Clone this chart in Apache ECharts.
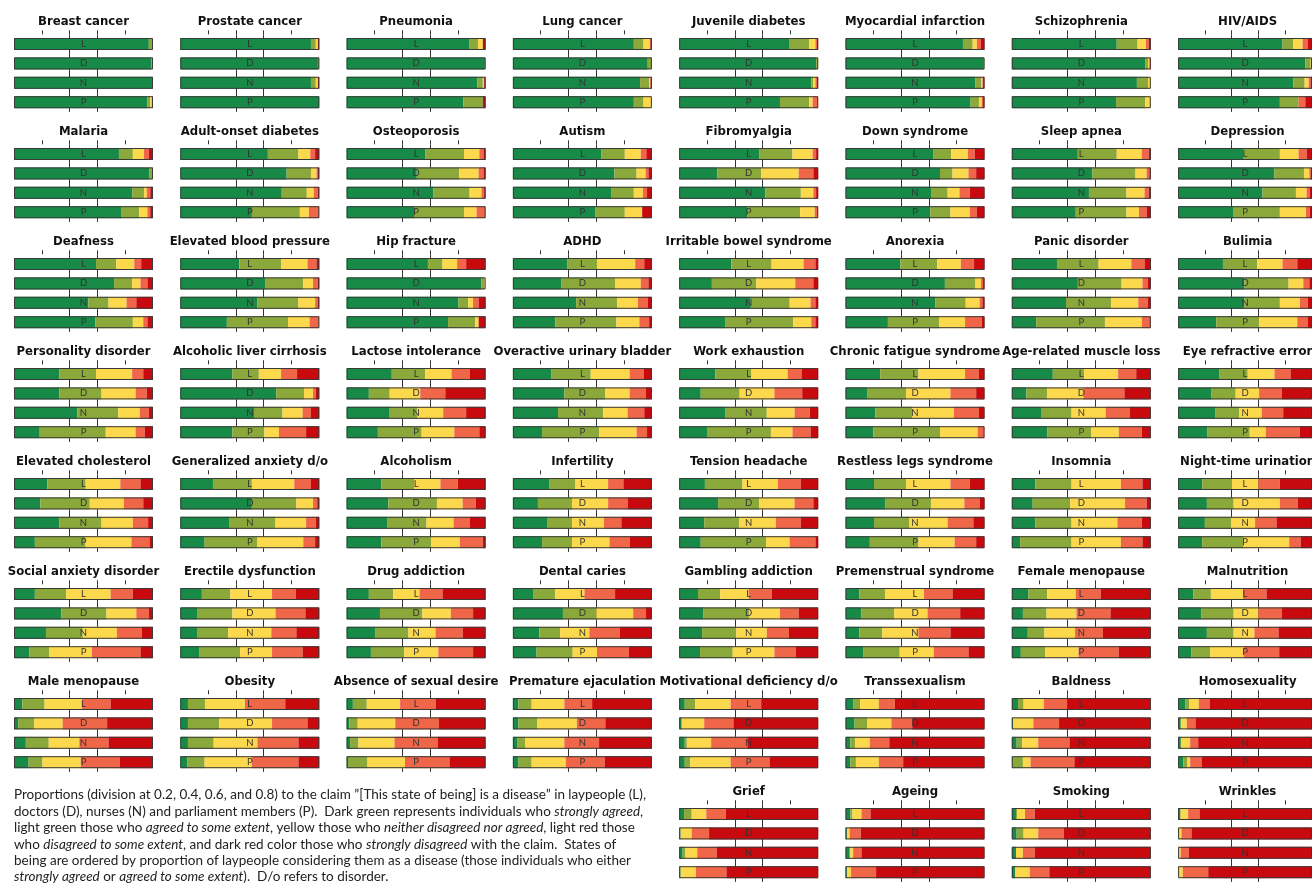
<!DOCTYPE html>
<html>
<head>
<meta charset="utf-8">
<script src="https://cdn.jsdelivr.net/npm/echarts@6/dist/echarts.min.js"></script>
<style>
  html, body { margin: 0; background: #fff; }
  #chart { width: 1312px; height: 883px; }
</style>
</head>
<body>
<div id="chart"></div>
<script>
// states of being, ordered as in the figure (8 per row, last row starts at column 5)
const conditions = [
  'Breast cancer', 'Prostate cancer', 'Pneumonia', 'Lung cancer', 'Juvenile diabetes', 'Myocardial infarction', 'Schizophrenia', 'HIV/AIDS',
  'Malaria', 'Adult-onset diabetes', 'Osteoporosis', 'Autism', 'Fibromyalgia', 'Down syndrome', 'Sleep apnea', 'Depression',
  'Deafness', 'Elevated blood pressure', 'Hip fracture', 'ADHD', 'Irritable bowel syndrome', 'Anorexia', 'Panic disorder', 'Bulimia',
  'Personality disorder', 'Alcoholic liver cirrhosis', 'Lactose intolerance', 'Overactive urinary bladder', 'Work exhaustion', 'Chronic fatigue syndrome', 'Age-related muscle loss', 'Eye refractive error',
  'Elevated cholesterol', 'Generalized anxiety d/o', 'Alcoholism', 'Infertility', 'Tension headache', 'Restless legs syndrome', 'Insomnia', 'Night-time urination',
  'Social anxiety disorder', 'Erectile dysfunction', 'Drug addiction', 'Dental caries', 'Gambling addiction', 'Premenstrual syndrome', 'Female menopause', 'Malnutrition',
  'Male menopause', 'Obesity', 'Absence of sexual desire', 'Premature ejaculation', 'Motivational deficiency d/o', 'Transsexualism', 'Baldness', 'Homosexuality',
  'Grief', 'Ageing', 'Smoking', 'Wrinkles'
];
// respondent groups: laypeople, doctors, nurses, parliament members
const groups = ['L', 'D', 'N', 'P'];
const answers = ['strongly agreed', 'agreed to some extent', 'neither', 'disagreed to some extent', 'strongly disagreed'];
const colors = ['#178a47', '#8ba83a', '#fcd84c', '#ef6648', '#c80a0f'];

// percentages per condition, each entry is [L, D, N, P]
const strongAgree = [
  [97, 99, 100, 96], [94, 99, 94, 100], [88.5, 99.5, 94, 84], [87, 97, 91.5, 87], [79.5, 98.5, 95, 72.5], [84.5, 99.5, 93.5, 90], [75.5, 96, 90, 75], [78, 95, 86, 76],
  [75.5, 97.5, 85, 77], [63, 76.5, 73, 51.5], [56.5, 50.5, 62.5, 48.5], [63.5, 73, 71, 59.5], [57.5, 27.5, 62, 49], [63, 68, 61.5, 61], [47.5, 58, 55.5, 46], [49, 72, 63, 41.5],
  [59, 72, 53.5, 58.5], [42.5, 61, 55.5, 33.5], [58.5, 97, 80.5, 73], [39, 35, 45.5, 30.5], [37.5, 23.5, 51.5, 33], [39.5, 71.5, 64.5, 30.5], [32.5, 47.5, 39, 17.5], [33.5, 49.5, 49.5, 28.5],
  [32.5, 32.5, 45.5, 18.5], [37.5, 69, 53, 37.5], [32.5, 16, 31, 22.5], [27.5, 37, 32.5, 21], [26, 15.5, 33, 20], [25, 15.5, 21.5, 20], [29.5, 10.5, 21.5, 25.5], [31, 25, 28, 22],
  [24, 19, 32.5, 15], [23.5, 51.5, 35.5, 17.5], [25, 30, 29.5, 25], [26, 18, 25, 21], [18.5, 28, 18, 15.5], [20.5, 28.5, 20.5, 17.5], [17, 15, 17, 6], [18, 21.5, 20, 18],
  [15, 34, 23, 11], [15.5, 12.5, 12, 13.5], [16, 24, 20.5, 17.5], [14.5, 36, 19, 17], [13.5, 17.5, 16.5, 15], [10, 11.5, 10, 13], [12, 8, 11.5, 6.5], [11.5, 17.5, 21.5, 10],
  [6, 3, 8.5, 10.5], [5.5, 5.5, 5.5, 5], [4.5, 2, 2.5, 1], [4, 4, 3, 4], [4, 1.5, 4, 4], [5.5, 6.5, 3.5, 3.5], [4.5, 1, 3.5, 0.5], [5.5, 2, 2, 4],
  [3.5, 1, 2.5, 1], [3.5, 1, 2.5, 1], [3, 3.5, 3, 2.5], [1.5, 0, 0, 0]
];
const agreeSome = [
  [2.5, 1, 0, 2], [3.5, 1, 3.5, 0], [6, 0.5, 4, 14], [7, 3, 6.5, 7], [14, 1.5, 1.5, 21], [7, 0.5, 4, 6], [15, 2, 8, 21], [8, 4, 8.5, 14],
  [10, 2.5, 8.5, 13], [22, 17.5, 18, 34.5], [28, 30.5, 26, 36], [17, 16, 16, 21], [24, 31.5, 25.5, 38], [13, 9, 12, 14.5], [28, 31, 27, 36.5], [27, 22, 25, 34.5],
  [14.5, 13, 14.5, 27], [30, 27.5, 29.5, 44], [10.5, 2, 7, 19.5], [21.5, 38.5, 29.5, 44], [29, 32, 28, 49], [26.5, 22, 22, 37], [30, 31.5, 32.5, 49.5], [25.5, 33, 26.5, 32],
  [26.5, 30.5, 29.5, 47.5], [19, 20, 20.5, 23], [24, 15, 20, 31.5], [28.5, 29.5, 32.5, 41], [26, 28, 30, 46], [27.5, 28, 26.5, 48], [22.5, 15, 21.5, 31.5], [21, 18, 17.5, 31.5],
  [27.5, 35.5, 30.5, 36.5], [28, 32, 33, 38], [23.5, 35, 28, 36], [19, 24.5, 17.5, 21.5], [27, 29.5, 25, 47], [23, 33, 25.5, 35], [26, 27, 26, 37], [22, 20, 19.5, 31],
  [22.5, 32.5, 26.5, 14.5], [20.5, 25, 22.5, 29.5], [17.5, 30.5, 24, 24], [16, 24, 15, 26], [16, 33, 24.5, 23.5], [18.5, 23.5, 16.5, 26], [13.5, 17, 12, 17.5], [13, 24, 20, 14],
  [16, 11.5, 16.5, 10], [12.5, 22.5, 18.5, 12.5], [10, 6, 6, 14], [9.5, 13.5, 6, 9.5], [7.5, 0.5, 1.5, 4], [5, 9, 3.5, 4], [4, 0, 4, 7.5], [3, 0, 0.5, 3],
  [5.5, 0, 2, 0], [1.5, 0, 1, 0], [1, 5, 0, 0], [0.5, 0.5, 0.5, 0]
];
const neutral = [
  [0.5, 0, 0, 1], [1.5, 0, 1.5, 0], [3.5, 0, 1, 0], [4.5, 0, 1, 6], [4.5, 0, 1.5, 2.5], [3, 0, 1, 2], [6, 1, 2, 4], [7, 1, 3, 0],
  [8, 0, 2, 6], [8.5, 4, 5, 6.5], [11, 14, 8.5, 9], [11.5, 6.5, 6.5, 12.5], [14.5, 27, 9, 10.5], [12, 11.5, 8.5, 14], [18, 8, 13, 9], [14, 4, 8, 19.5],
  [13, 6, 13, 7.5], [19, 7, 12, 15.5], [10.5, 1, 3.5, 2.5], [27.5, 18.5, 15, 16.5], [23, 28, 15, 13], [17, 4, 10, 18.5], [23.5, 15, 19.5, 26.5], [19, 11, 15, 28.5],
  [26, 24.5, 15.5, 21.5], [16, 6.5, 14.5, 10.5], [19, 22, 18.5, 23.5], [28, 17.5, 17.5, 27], [26, 25, 20, 15.5], [33.5, 32, 30, 27], [24.5, 26, 24.5, 20], [20, 17.5, 17, 12],
  [25, 24.5, 22.5, 33], [30.5, 12, 22, 33], [19, 18.5, 19.5, 20.5], [23.5, 26, 23, 27], [25.5, 25.5, 26.5, 17], [32, 24, 27.5, 26], [35.5, 39.5, 33, 35.5], [20, 34.5, 18, 34],
  [32, 21.5, 24.5, 30.5], [30, 31, 31, 23], [19, 20.5, 19.5, 24.5], [21, 26.5, 21, 17.5], [20.5, 22, 22, 30], [28, 24, 26, 24.5], [20.5, 21.5, 22, 24], [24, 18.5, 15.5, 25],
  [27, 20.5, 22, 27.5], [28.5, 38, 31.5, 34], [24, 27, 26, 27], [23.5, 28.5, 28, 24.5], [25.5, 16, 17.5, 29], [13.5, 17.5, 10.5, 16.5], [14.5, 14.5, 11.5, 5.5], [7, 4.5, 6.5, 2],
  [10.5, 8, 8.5, 11], [6.5, 2, 2, 3], [5.5, 10.5, 5, 10.5], [5.5, 2, 1.5, 3.5]
];
const disagreeSome = [
  [0, 0, 0, 0.5], [0, 0, 0, 0], [0, 0, 0, 0], [0.5, 0, 0, 0], [1, 0, 1, 4], [3, 0, 0.5, 1], [2, 0.5, 0, 0], [4, 0, 1.5, 5],
  [3.5, 0, 2.5, 2], [3.5, 1, 3, 7.5], [3, 3.5, 2, 6.5], [4, 2, 3, 0], [2.5, 10.5, 2, 2.5], [5, 5.5, 7.5, 5], [5, 2, 3, 5.5], [6, 1, 2.5, 3],
  [5, 5, 7, 3], [6.5, 3.5, 2, 7], [6.5, 0, 4, 0], [6.5, 5.5, 7, 7], [8.5, 13, 3.5, 3], [9.5, 1.5, 2, 12], [9.5, 4, 7, 6.5], [11, 4.5, 6, 8],
  [8, 8, 6.5, 6.5], [11.5, 2, 6, 19.5], [13, 18, 16.5, 18], [10, 11.5, 12, 7.5], [10, 20, 11, 13], [10, 18.5, 18, 5], [13, 29.5, 17.5, 16.5], [12, 17, 16, 25.5],
  [14.5, 14, 11, 13], [12, 3, 7, 8.5], [12.5, 9.5, 11.5, 16.5], [11, 14, 12.5, 14.5], [16.5, 13.5, 18, 18.5], [14, 11, 18.5, 15.5], [15.5, 15.5, 17.5, 15.5], [16, 13.5, 16, 8.5],
  [16, 9, 18, 35], [17, 21.5, 18, 22], [16.5, 16, 19.5, 25], [22, 9, 22, 23], [16.5, 13.5, 16, 15.5], [20.5, 23.5, 23, 25], [18, 24.5, 20, 29], [17.5, 17.5, 18, 26.5],
  [20.5, 32, 21, 28], [29, 25.5, 29.5, 33.5], [25.5, 31.5, 31, 32], [20, 20.5, 25, 28], [22, 21, 26, 28], [11.5, 15, 14, 17.5], [17, 18.5, 22.5, 31.5], [8, 6.5, 6, 8.5],
  [14, 12.5, 14, 22], [6.5, 8, 6, 18], [7, 18.5, 8.5, 14], [8.5, 7.5, 6, 19]
];
const strongDisagree = [
  [0, 0, 0, 0.5], [1, 0, 1, 0], [2, 0, 1, 2], [1, 0, 1, 0], [1, 0, 1, 0], [2.5, 0, 1, 1], [1.5, 0.5, 0, 0], [3, 0, 1, 5],
  [3, 0, 2, 2], [3, 1, 1, 0], [1.5, 1.5, 1, 0], [4, 2.5, 3.5, 7], [1.5, 3.5, 1.5, 0], [7, 6, 10.5, 5.5], [1.5, 1, 1.5, 3], [4, 1, 1.5, 1.5],
  [8.5, 4, 12, 4], [2, 1, 1, 0], [14, 0, 5, 5], [5.5, 2.5, 3, 2], [2, 3.5, 2, 2], [7.5, 1, 1.5, 2], [4.5, 2, 2, 0], [11, 2, 3, 3],
  [7, 4.5, 3, 6], [16, 2.5, 6, 9.5], [11.5, 29, 14, 4.5], [6, 4.5, 5.5, 3.5], [12, 11.5, 6, 5.5], [4, 6, 4, 0], [10.5, 19, 15, 6.5], [16, 22.5, 21.5, 9],
  [9, 7, 3.5, 2.5], [6, 1.5, 2.5, 3], [20, 7, 11.5, 2], [20.5, 17.5, 22, 16], [12.5, 3.5, 12.5, 2], [10.5, 3.5, 8, 6], [6, 3, 6.5, 6], [24, 10.5, 26.5, 8.5],
  [14.5, 3, 8, 9], [17, 10, 16.5, 12], [31, 9, 16.5, 9], [26.5, 4.5, 23, 16.5], [33.5, 14, 21, 16], [23, 17.5, 24.5, 11.5], [36, 29, 34.5, 23], [34, 22.5, 25, 24.5],
  [30.5, 33, 32, 24], [24.5, 8.5, 15, 15], [36, 33.5, 34.5, 26], [43, 33.5, 38, 34], [41, 61, 51, 35], [64.5, 52, 68.5, 58.5], [60, 66, 58.5, 55], [76.5, 87, 85, 82.5],
  [66.5, 78.5, 73, 66], [82, 89, 88.5, 78], [83.5, 62.5, 83.5, 73], [84, 90, 92, 77.5]
];
const levelData = [strongAgree, agreeSome, neutral, disagreeSome, strongDisagree];
const tickValues = [20, 40, 60, 80];

const captionLines = [
  'Proportions (division at 0.2, 0.4, 0.6, and 0.8) to the claim ”[This state of being] is a disease” in laypeople (L),',
  'doctors (D), nurses (N) and parliament members (P).  Dark green represents individuals who {i|strongly agreed},',
  'light green those who {i|agreed to some extent}, yellow those who {i|neither disagreed nor agreed}, light red those',
  'who {i|disagreed to some extent}, and dark red color those who {i|strongly disagreed} with the claim.  States of',
  'being are ordered by proportion of laypeople considering them as a disease (those individuals who either',
  '{i|strongly agreed} or {i|agreed to some extent}).  D/o refers to disorder.'
];

const chart = echarts.init(document.getElementById('chart'));
const titleFont = "'DejaVu Sans Condensed', 'DejaVu Sans', sans-serif";
const textFont = "Lato, 'Open Sans', sans-serif";

const grids = [], xAxes = [], yAxes = [], titles = [], series = [];
conditions.forEach((name, i) => {
  const col = i < 56 ? i % 8 : 4 + (i - 56);
  const row = i < 56 ? Math.floor(i / 8) : 7;
  const left = 14 + col * 166.3;
  const top = 34.3 + row * 110;
  grids.push({ left: left, top: top, width: 139, height: 77.6 });
  xAxes.push({
    gridIndex: i, type: 'value', min: 0, max: 100, interval: 20, position: 'top',
    axisLine: { show: false }, axisLabel: { show: false },
    axisTick: { show: true, length: 4, customValues: tickValues, lineStyle: { color: '#333', width: 1 } },
    splitLine: { show: true, showMinLine: false, showMaxLine: false, lineStyle: { color: '#333', width: 1 } }
  });
  yAxes.push({ gridIndex: i, type: 'category', data: groups, inverse: true, show: false });
  titles.push({
    text: name, left: left + 69.5, top: top - 21, textAlign: 'center', padding: 0,
    textStyle: { fontFamily: titleFont, fontWeight: 'bold', fontSize: 13, lineHeight: 16, color: '#111' }
  });
  levelData.forEach((arr, k) => {
    series.push({
      type: 'bar', name: answers[k], xAxisIndex: i, yAxisIndex: i, stack: 'panel' + i,
      barWidth: 12, barGap: '-100%', silent: true, animation: false,
      itemStyle: { color: colors[k] }, data: arr[i]
    });
  });
  // outline and group letter on top of the stacked bar
  series.push({
    type: 'bar', xAxisIndex: i, yAxisIndex: i, barWidth: 12, barGap: '-100%', silent: true, animation: false, z: 3,
    itemStyle: { color: 'rgba(0,0,0,0)', borderColor: '#3a3a3a', borderWidth: 1 },
    label: { show: true, position: 'inside', formatter: p => p.name, fontSize: 9.5, fontFamily: textFont, color: '#333' },
    data: groups.map(() => 100)
  });
});

const graphics = captionLines.map((line, j) => ({
  type: 'text', left: 14, top: 788 + j * 16.4, silent: true,
  style: {
    text: line, fill: '#222', fontSize: 13.5, fontFamily: textFont,
    rich: { i: { fontStyle: 'italic', fontSize: 13.5, fontFamily: textFont, fill: '#222' } }
  }
}));

chart.setOption({
  backgroundColor: '#fff',
  animation: false,
  title: titles,
  grid: grids,
  xAxis: xAxes,
  yAxis: yAxes,
  series: series,
  graphic: graphics
});
</script>
</body>
</html>
